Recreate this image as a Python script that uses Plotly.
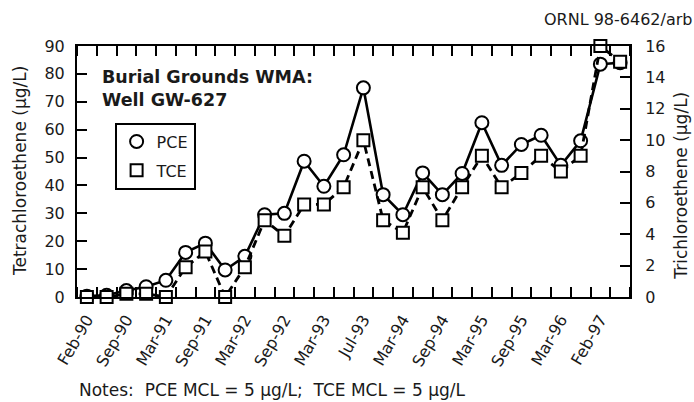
import plotly.graph_objects as go

# ---- data ----
tick_labels = ["Feb-90", "Sep-90", "Mar-91", "Sep-91", "Mar-92", "Sep-92", "Mar-93",
               "Jul-93", "Mar-94", "Sep-94", "Mar-95", "Sep-95", "Mar-96", "Feb-97"]
tick_positions = [0, 2, 4, 6, 8, 10, 12, 14, 16, 18, 20, 22, 24, 26]
sample_index = [0, 1, 2, 3, 4, 5, 6, 7, 8, 9, 10, 11, 12, 13,
                14, 15, 16, 17, 18, 19, 20, 21, 22, 23, 24, 25, 26, 27]
pce = [0.3, 0.6, 2.3, 3.7, 6.0, 16.0, 19.3, 9.7, 14.6, 29.5, 30.0, 48.7, 39.7, 51.0,
       75.0, 36.7, 29.5, 44.5, 36.7, 44.3, 62.5, 47.2, 54.7, 58.0, 47.2, 56.0, 83.5, 84.0]
tce = [0.0, 0.0, 0.2, 0.2, 0.0, 1.9, 2.9, 0.0, 1.9, 4.9, 3.9, 5.9, 5.9, 7.0,
       10.0, 4.9, 4.1, 7.0, 4.9, 7.0, 9.0, 7.0, 7.9, 9.0, 8.0, 9.0, 16.0, 15.0]
left_ticks = [0, 10, 20, 30, 40, 50, 60, 70, 80, 90]
right_ticks = [0, 2, 4, 6, 8, 10, 12, 14, 16]

FONT = "DejaVu Sans"
INK = "#1a1a1a"

fig = go.Figure()

# TCE (right axis): dashed line, then open squares
fig.add_trace(go.Scatter(x=sample_index, y=tce, yaxis="y2", mode="lines",
                         line=dict(color="black", width=2.8, dash="8px,5px"),
                         showlegend=False, hoverinfo="skip"))
fig.add_trace(go.Scatter(x=sample_index, y=tce, yaxis="y2", mode="markers", name="TCE",
                         marker=dict(symbol="square", size=12, color="white",
                                     line=dict(color="black", width=2)),
                         cliponaxis=False, legendgroup="tce", legendrank=2))
# PCE (left axis): solid line, then open circles
fig.add_trace(go.Scatter(x=sample_index, y=pce, mode="lines",
                         line=dict(color="black", width=2.6),
                         showlegend=False, hoverinfo="skip"))
fig.add_trace(go.Scatter(x=sample_index, y=pce, mode="markers", name="PCE",
                         marker=dict(symbol="circle", size=13, color="white",
                                     line=dict(color="black", width=2)),
                         cliponaxis=False, legendgroup="pce", legendrank=1))

fig.update_layout(
    width=694, height=402,
    margin=dict(l=77, r=64, t=46, b=105, autoexpand=False),
    paper_bgcolor="white", plot_bgcolor="white",
    font=dict(family=FONT, size=16, color=INK),
    showlegend=True,
    legend=dict(x=0.068, y=0.695, xanchor="left", yanchor="top",
                bgcolor="white", bordercolor="black", borderwidth=2,
                font=dict(family=FONT, size=16, color=INK),
                tracegroupgap=5, traceorder="grouped"),
    xaxis=dict(range=[-0.5, 27.5], tickmode="array", tickvals=tick_positions,
               ticktext=tick_labels, tickangle=-60, ticks="", automargin=False,
               showline=True, linecolor="black", linewidth=2, mirror="ticks",
               showgrid=False, zeroline=False, ticklabelstandoff=5,
               tickfont=dict(family=FONT, size=16, color=INK),
               minor=dict(tickmode="linear", tick0=-0.5, dtick=1, ticks="inside",
                          ticklen=10, tickwidth=1.5, tickcolor="black", showgrid=False)),
    yaxis=dict(range=[0, 90], tickmode="array", tickvals=left_ticks, automargin=False,
               ticks="inside", ticklen=10, tickwidth=1.5, tickcolor="black",
               showline=True, linecolor="black", linewidth=2,
               showgrid=False, zeroline=False, ticklabelstandoff=7,
               tickfont=dict(family=FONT, size=16, color=INK)),
    yaxis2=dict(range=[0, 16], overlaying="y", side="right", tickmode="array",
                tickvals=right_ticks, ticks="inside", ticklen=10, tickwidth=1.5,
                tickcolor="black", showline=True, linecolor="black", linewidth=2,
                showgrid=False, zeroline=False, ticklabelstandoff=10, automargin=False,
                tickfont=dict(family=FONT, size=16, color=INK)),
)

annotations = [
    dict(text="<b>Burial Grounds WMA:</b><br><b>Well GW-627</b>", x=0.042, y=0.925,
         xref="paper", yref="paper", xanchor="left", yanchor="top", align="left",
         showarrow=False, font=dict(family=FONT, size=17.5, color=INK)),
    dict(text="Tetrachloroethene (µg/L)", x=-0.103, y=0.502, xref="paper", yref="paper",
         xanchor="center", yanchor="middle", textangle=-90, showarrow=False,
         font=dict(family=FONT, size=17, color=INK)),
    dict(text="Trichloroethene (µg/L)", x=1.092, y=0.443, xref="paper", yref="paper",
         xanchor="center", yanchor="middle", textangle=-90, showarrow=False,
         font=dict(family=FONT, size=17, color=INK)),
    dict(text="ORNL 98-6462/arb", x=1.116, y=1.104, xref="paper", yref="paper",
         xanchor="right", yanchor="middle", showarrow=False,
         font=dict(family=FONT, size=16, color=INK)),
    dict(text="Notes:  PCE MCL = 5 µg/L;  TCE MCL = 5 µg/L", x=0.0, y=-0.37,
         xref="paper", yref="paper", xanchor="left", yanchor="middle", showarrow=False,
         font=dict(family=FONT, size=17, color=INK)),
]
fig.update_layout(annotations=annotations)

fig.write_html("out.html", config={"displayModeBar": False},
               post_script="document.body.style.margin='0px';document.body.style.overflow='hidden';")
